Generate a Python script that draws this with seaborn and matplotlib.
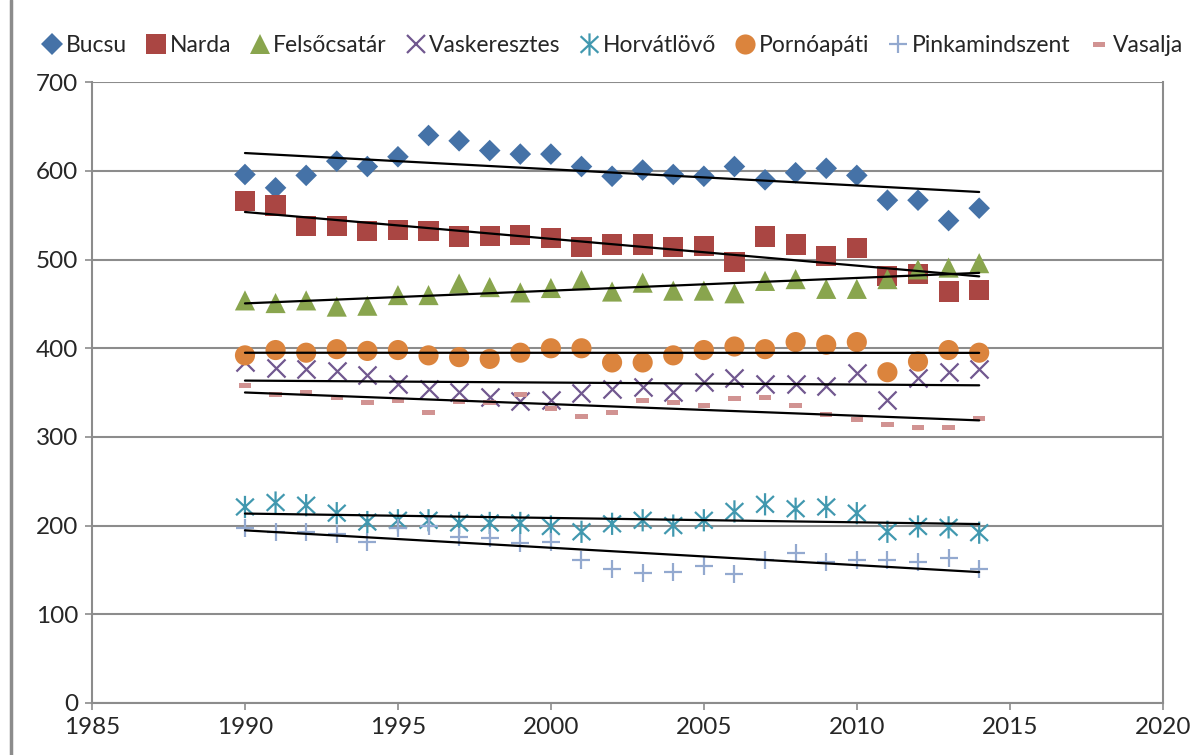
import numpy as np
import pandas as pd
import matplotlib.pyplot as plt
from matplotlib.path import Path
from matplotlib.lines import Line2D
import seaborn as sns

# evek
evek = list(range(1990, 2015))

bucsu = [596, 581, 595, 611, 605, 616, 640, 634, 623, 619, 619, 605, 594,
         601, 596, 594, 605, 590, 598, 603, 595, 567, 567, 544, 558]
narda = [566, 561, 538, 538, 532, 533, 532, 526, 527, 528, 524, 514, 517,
         517, 514, 515, 497, 526, 517, 504, 513, 482, 484, 464, 466]
felsocsatar = [454, 451, 454, 447, 448, 460, 460, 473, 469, 463, 468, 477, 464,
               474, 465, 465, 462, 476, 478, 467, 467, 478, 489, 491, 496]
vaskeresztes = [385, 378, 377, 374, 370, 360, 354, 351, 345, 340, 342, 349, 354,
                356, 351, 362, 366, 360, 360, 357, 372, 342, 367, 373, 377]
horvatlovo = [221, 226, 223, 214, 204, 206, 206, 203, 203, 203, 199, 193, 202,
              206, 200, 206, 216, 224, 219, 221, 214, 193, 199, 198, 192]
pornoapati = [392, 398, 395, 399, 397, 398, 392, 390, 388, 395, 400, 400, 384,
              384, 392, 398, 402, 399, 407, 404, 407, 373, 385, 398, 395]
pinkamindszent = [197, 193, 193, 191, 182, 197, 199, 187, 186, 180, 182, 161, 151,
                  146, 148, 154, 145, 161, 169, 159, 161, 161, 159, 164, 151]
vasalja = [358, 348, 350, 345, 339, 341, 328, 340, 339, 348, 332, 323, 328,
           341, 339, 336, 343, 344, 336, 325, 320, 314, 311, 311, 321]

nevek = ['Bucsu', 'Narda', 'Felsőcsatár', 'Vaskeresztes', 'Horvátlövő',
         'Pornóapáti', 'Pinkamindszent', 'Vasalja']
adatok = [bucsu, narda, felsocsatar, vaskeresztes, horvatlovo,
          pornoapati, pinkamindszent, vasalja]
szinek = ['#4572A7', '#AA4643', '#89A54E', '#71588F', '#4198AF',
          '#DB843D', '#93A9CF', '#D19392']

# egyedi markerek (csillag es kis teglalap)
csillag = Path([(0, -1), (0, 1), (-0.8, -0.75), (0.8, 0.75), (-0.8, 0.75), (0.8, -0.75)],
               [Path.MOVETO, Path.LINETO, Path.MOVETO, Path.LINETO, Path.MOVETO, Path.LINETO])
kotojel = Path([(-1, -0.4), (1, -0.4), (1, 0.4), (-1, 0.4), (-1, -0.4)],
               [Path.MOVETO, Path.LINETO, Path.LINETO, Path.LINETO, Path.CLOSEPOLY])
markerek = ['D', 's', '^', 'x', csillag, 'o', '+', kotojel]
meretek = [11, 14.5, 14.5, 13, 16, 14.5, 13, 9]
vonalak = [0, 0, 0, 1.6, 1.6, 0, 1.6, 0]

sns.set_style('white')
plt.rcParams['font.family'] = ['Lato', 'DejaVu Sans']

fig = plt.figure(figsize=(11.95, 7.55), dpi=100)
ax = fig.add_axes([0.077, 0.069, 0.896, 0.822])

for nev, ertek, szin, m, ms, lw in zip(nevek, adatok, szinek, markerek, meretek, vonalak):
    df = pd.DataFrame({'ev': evek, 'ertek': ertek})
    if m is csillag:
        sns.scatterplot(data=df, x='ev', y='ertek', ax=ax, marker=m, s=ms ** 2,
                        edgecolor=szin, facecolor='none', linewidth=lw, zorder=3)
    elif lw > 0:
        sns.scatterplot(data=df, x='ev', y='ertek', ax=ax, marker=m, s=ms ** 2,
                        color=szin, linewidth=lw, zorder=3)
    else:
        sns.scatterplot(data=df, x='ev', y='ertek', ax=ax, marker=m, s=ms ** 2,
                        color=szin, edgecolor='none', linewidth=0, zorder=3)

# linearis trendvonalak
for ertek in adatok:
    df = pd.DataFrame({'ev': evek, 'ertek': ertek})
    sns.regplot(data=df, x='ev', y='ertek', ax=ax, scatter=False, ci=None,
                truncate=True, color='black', line_kws={'linewidth': 1.6, 'zorder': 4})

ax.set_xlim(1985, 2020)
ax.set_ylim(0, 700)
ax.set_xticks(range(1985, 2021, 5))
ax.set_yticks(range(0, 701, 100))
ax.set_xlabel('')
ax.set_ylabel('')
ax.grid(axis='y', color='#8c8c8c', linewidth=1.5)
ax.set_axisbelow(True)
for s in ['left', 'bottom', 'right']:
    ax.spines[s].set_color('#8c8c8c')
    ax.spines[s].set_linewidth(1.5)
ax.spines['top'].set_visible(False)
ax.tick_params(axis='both', which='major', labelsize=17.5, length=5, width=1.2,
               color='#8c8c8c', direction='out', bottom=True, left=True, pad=5)

# jelmagyarazat
kezelok = []
for nev, szin, m, ms, lw in zip(nevek, szinek, markerek, meretek, vonalak):
    if lw > 0:
        kezelok.append(Line2D([], [], linestyle='', marker=m, markersize=ms,
                              color=szin, markeredgecolor=szin, markerfacecolor='none',
                              markeredgewidth=lw, label=nev))
    else:
        kezelok.append(Line2D([], [], linestyle='', marker=m, markersize=ms,
                              color=szin, markeredgewidth=0, label=nev))
fig.legend(handles=kezelok, loc='center', bbox_to_anchor=(0.512, 0.94), ncol=8,
           frameon=False, fontsize=16.5, handletextpad=0.1, columnspacing=0.75,
           handlelength=1.0)

# a diagramterulet bal szele
fig.add_artist(Line2D([0.009, 0.009], [0, 1], transform=fig.transFigure,
                      color='#8c8c8c', linewidth=2.5))

plt.savefig('out.png', dpi=100)
